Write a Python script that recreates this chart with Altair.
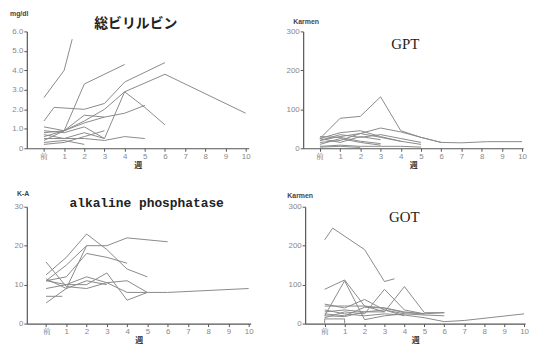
import altair as alt
import pandas as pd

WEEK_TICKS = [0, 1, 2, 3, 4, 5, 6, 7, 8, 9, 10]   # 0 = 前

# 総ビリルビン (mg/dl): (weeks, values) per patient
bili_lines = [
    ([0, 1, 1.4], [2.6, 4.0, 5.6]),
    ([0, 0.5, 2, 3, 4, 6], [1.4, 2.1, 2.0, 2.3, 3.4, 4.4]),
    ([0, 1, 2, 4], [0.6, 0.9, 3.3, 4.3]),
    ([0, 1, 2, 3, 4, 6, 10], [0.8, 0.9, 1.4, 2.0, 2.9, 3.8, 1.8]),
    ([0, 1, 2, 3, 4, 5, 6], [0.5, 0.5, 0.8, 0.5, 2.9, 2.1, 1.2]),
    ([0, 1, 2, 3, 4, 5], [1.1, 0.9, 1.3, 1.6, 1.8, 2.2]),
    ([0, 1, 2, 3, 4, 5], [0.7, 0.5, 0.5, 0.4, 0.6, 0.5]),
    ([0, 1, 2], [0.3, 0.4, 0.2]),
    ([0, 1, 2, 3], [0.9, 0.8, 1.1, 0.5]),
    ([0, 1, 2, 3], [0.4, 0.9, 1.7, 1.6]),
    ([0, 1, 2, 3], [0.2, 0.3, 0.6, 0.9]),
]
bili_ticks = [0, 1, 2, 3, 4, 5, 6]

# GPT (Karmen)
gpt_lines = [
    ([0, 1, 2, 3, 4, 5, 6], [25, 77, 82, 132, 45, 28, 15]),
    ([0, 1, 2, 3, 4, 5, 6, 7, 8.3, 10], [20, 30, 38, 52, 42, 28, 15, 14, 17, 17]),
    ([0, 1, 2, 3, 4], [25, 40, 45, 30, 18]),
    ([0, 1, 2, 3, 4, 5], [20, 35, 28, 35, 25, 15]),
    ([0, 1, 2, 3], [30, 28, 18, 12]),
    ([0, 1, 2, 3, 4, 5], [15, 20, 38, 28, 18, 10]),
    ([0, 1, 2, 3], [10, 25, 15, 8]),
    ([0, 1, 2, 3, 4, 5], [5, 8, 5, 5, 5, 3]),
    ([0, 1, 2, 3], [25, 15, 30, 22]),
    ([0, 1, 2], [3, 5, 2]),
]
karmen_ticks = [0, 100, 200, 300]

# alkaline phosphatase (K-A)
alp_lines = [
    ([0, 1, 2, 3, 4, 5], [12.5, 17, 23, 19, 14, 12]),
    ([0, 1, 2, 3, 4, 6], [11, 15, 20, 20, 22, 21]),
    ([0, 1, 2, 3, 4], [11, 12, 18, 17, 15.5]),
    ([0, 1, 2], [5.3, 9, 20]),
    ([0, 1, 2, 3, 4, 5], [15.8, 9.5, 9, 10.5, 11, 8]),
    ([0, 1, 2, 3, 4, 5, 6, 10], [11, 10, 12, 10.5, 8, 8, 8, 9]),
    ([0, 1, 2, 3, 4, 5], [9, 10, 10, 13, 6, 8]),
    ([0, 0.8], [7, 7]),
    ([0, 1, 2, 3], [11.5, 9, 11, 10]),
]
alp_ticks = [0, 10, 20, 30]

# GOT (Karmen)
got_lines = [
    ([0, 0.4, 2, 3, 3.5], [215, 245, 190, 108, 115]),
    ([0, 1, 2, 3], [88, 112, 45, 30]),
    ([0, 1, 2, 3, 4], [20, 110, 10, 20, 25]),
    ([0, 1, 2, 3, 4, 5], [15, 30, 25, 88, 35, 25]),
    ([0, 1, 2, 3, 4, 5, 6], [30, 35, 30, 30, 95, 28, 28]),
    ([0, 1, 2, 3, 4, 5, 6], [50, 40, 62, 35, 25, 22, 20]),
    ([0, 1, 2, 3, 4, 5, 6], [45, 45, 45, 40, 30, 25, 28]),
    ([0, 1, 2, 3, 4, 5], [25, 20, 42, 40, 28, 25]),
    ([0, 1, 2, 3, 4, 5, 6, 7, 10], [35, 25, 20, 25, 22, 15, 5, 8, 25]),
    ([0, 1, 2, 3, 4], [20, 18, 30, 35, 20]),
    ([0, 0, 1, 1], [0, 12, 12, 0]),
]


def to_df(lines):
    rows = []
    for i, (xs, ys) in enumerate(lines):
        for j, (x, y) in enumerate(zip(xs, ys)):
            rows.append({"id": i, "seq": j, "week": x, "val": y})
    return pd.DataFrame(rows)


def panel(lines, ymax, yticks, yfmt, title, tfont, tsize, tweight, tx, ty,
          unit, ux, uy, w, xdom, ymin_extent):
    df = to_df(lines)
    xaxis = dict(values=WEEK_TICKS, labelExpr="datum.value == 0 ? '前' : datum.value",
                 title="週", titleFontSize=8, titleFont="Noto Sans CJK JP",
                 titleFontWeight="bold", titleColor="#333", titlePadding=1,
                 grid=False, tickSize=3, labelPadding=1, labelFontSize=8,
                 labelFlush=False)
    lines_ch = alt.Chart(df).mark_line(strokeWidth=1, color="#8a8a8a", clip=True).encode(
        x=alt.X("week:Q", scale=alt.Scale(domain=xdom, nice=False, zero=False),
                axis=alt.Axis(**xaxis)),
        y=alt.Y("val:Q", scale=alt.Scale(domain=[0, ymax], nice=False),
                axis=alt.Axis(values=yticks, title=None, grid=False, tickSize=3,
                              labelPadding=1, labelFontSize=8, minExtent=ymin_extent,
                              maxExtent=ymin_extent,
                              labelExpr=f"datum.value == 0 ? '0' : format(datum.value, '{yfmt}')")),
        detail="id:N",
        order="seq:Q",
    )
    t = alt.Chart(pd.DataFrame({"t": [title]})).mark_text(
        font=tfont, fontSize=tsize, fontWeight=tweight, color="#222",
        align="center", baseline="middle").encode(
        x=alt.value(tx), y=alt.value(ty), text="t:N")
    u = alt.Chart(pd.DataFrame({"t": [unit]})).mark_text(
        font="Liberation Sans", fontSize=7, fontWeight="bold", color="#444",
        align="left", baseline="middle").encode(
        x=alt.value(ux), y=alt.value(uy), text="t:N")
    return alt.layer(lines_ch, t, u).properties(width=w, height=118)


bili = panel(bili_lines, 6, bili_ticks, ".1f", "総ビリルビン", "Noto Sans CJK JP", 14, "bold",
             110, -7, "mg/dl", -17, -17.5, 224, [-0.85, 10.15], 19)
gpt = panel(gpt_lines, 300, karmen_ticks, "d", "GPT", "Liberation Serif", 15, "normal",
            103, 13, "Karmen", -10, -9, 222, [-0.83, 10.05], 20)
alp = panel(alp_lines, 30, alp_ticks, "d", "alkaline phosphatase", "Liberation Mono", 13, "bold",
            121, -4, "K-A", -10, -13, 226, [-0.95, 10.1], 17)
got = panel(got_lines, 300, karmen_ticks, "d", "GOT", "Liberation Serif", 15, "normal",
            100, 10, "Karmen", -18, -11, 222, [-0.98, 10.05], 20)

chart = alt.vconcat(
    alt.hconcat(bili, gpt, spacing=33),
    alt.hconcat(alp, got, spacing=32),
    spacing=21,
).properties(padding={"left": 0, "top": 0, "right": 0, "bottom": 0}).configure_view(
    stroke=None
).configure_axis(
    labelFont="Liberation Sans", labelColor="#888",
    domainColor="#555", tickColor="#555", domainWidth=1.2,
)

chart.save("out.html", embed_options={"renderer": "svg", "actions": False})
